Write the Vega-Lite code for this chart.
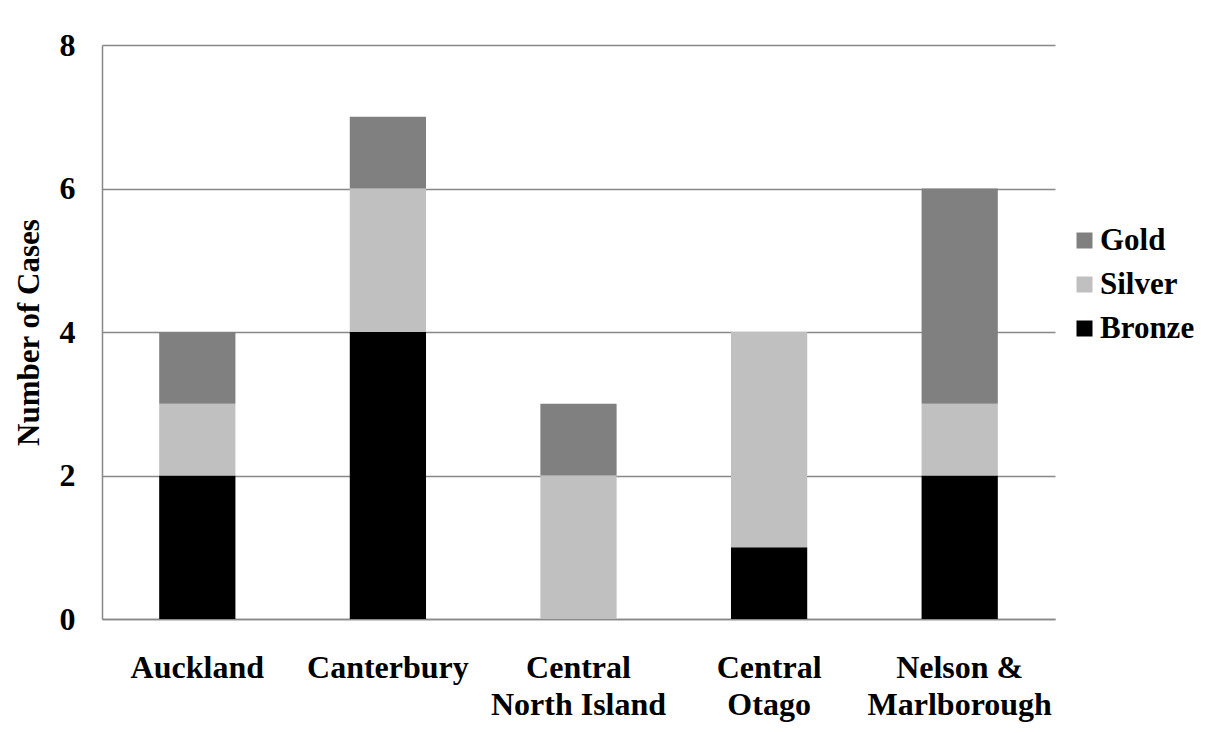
{
  "$schema": "https://vega.github.io/schema/vega-lite/v6.json",
  "autosize": "none",
  "padding": {"left": 102, "top": 45, "right": 151, "bottom": 114},
  "width": 953,
  "height": 574,
  "background": "white",
  "config": {
    "font": "Liberation Serif",
    "view": {"stroke": null}
  },
  "data": {
    "values": [
      {"region": "Auckland", "medal": "Bronze", "rank": 1, "cases": 2},
      {"region": "Auckland", "medal": "Silver", "rank": 2, "cases": 1},
      {"region": "Auckland", "medal": "Gold", "rank": 3, "cases": 1},
      {"region": "Canterbury", "medal": "Bronze", "rank": 1, "cases": 4},
      {"region": "Canterbury", "medal": "Silver", "rank": 2, "cases": 2},
      {"region": "Canterbury", "medal": "Gold", "rank": 3, "cases": 1},
      {"region": "Central North Island", "medal": "Bronze", "rank": 1, "cases": 0},
      {"region": "Central North Island", "medal": "Silver", "rank": 2, "cases": 2},
      {"region": "Central North Island", "medal": "Gold", "rank": 3, "cases": 1},
      {"region": "Central Otago", "medal": "Bronze", "rank": 1, "cases": 1},
      {"region": "Central Otago", "medal": "Silver", "rank": 2, "cases": 3},
      {"region": "Central Otago", "medal": "Gold", "rank": 3, "cases": 0},
      {"region": "Nelson & Marlborough", "medal": "Bronze", "rank": 1, "cases": 2},
      {"region": "Nelson & Marlborough", "medal": "Silver", "rank": 2, "cases": 1},
      {"region": "Nelson & Marlborough", "medal": "Gold", "rank": 3, "cases": 3}
    ]
  },
  "mark": {"type": "bar"},
  "encoding": {
    "x": {
      "field": "region",
      "type": "nominal",
      "sort": null,
      "scale": {"paddingInner": 0.6, "paddingOuter": 0.3},
      "axis": {
        "title": null,
        "labelAngle": 0,
        "labelFont": "Liberation Serif",
        "labelFontSize": 32,
        "labelFontWeight": "bold",
        "labelColor": "black",
        "labelPadding": 33,
        "labelLineHeight": 37,
        "labelBaseline": "top",
        "labelLimit": 0,
        "labelExpr": "datum.label == 'Central North Island' ? ['Central', 'North Island'] : datum.label == 'Central Otago' ? ['Central', 'Otago'] : datum.label == 'Nelson & Marlborough' ? ['Nelson &', 'Marlborough'] : datum.label",
        "ticks": false,
        "domainColor": "#888888",
        "domainWidth": 1.5
      }
    },
    "y": {
      "field": "cases",
      "type": "quantitative",
      "stack": "zero",
      "scale": {"domain": [0, 8], "nice": false},
      "axis": {
        "title": "Number of Cases",
        "titleFont": "Liberation Serif",
        "titleFontSize": 31,
        "titleFontWeight": "bold",
        "titleColor": "black",
        "titlePadding": 14,
        "values": [0, 2, 4, 6, 8],
        "labelFont": "Liberation Serif",
        "labelFontSize": 32,
        "labelFontWeight": "bold",
        "labelColor": "black",
        "labelPadding": 27,
        "ticks": false,
        "grid": true,
        "gridColor": "#888888",
        "gridWidth": 1.5,
        "domainColor": "#888888",
        "domainWidth": 1.5
      }
    },
    "color": {
      "field": "medal",
      "type": "nominal",
      "scale": {"domain": ["Gold", "Silver", "Bronze"], "range": ["#808080", "#c0c0c0", "#000000"]},
      "legend": {
        "title": null,
        "orient": "none",
        "legendX": 967,
        "legendY": 180,
        "padding": 0,
        "symbolType": "square",
        "symbolSize": 256,
        "symbolStrokeWidth": 0,
        "labelFont": "Liberation Serif",
        "labelFontSize": 31,
        "labelFontWeight": "bold",
        "labelColor": "black",
        "labelOffset": 0,
        "labelLimit": 0,
        "rowPadding": 12
      }
    },
    "order": {"field": "rank", "type": "quantitative"}
  }
}
